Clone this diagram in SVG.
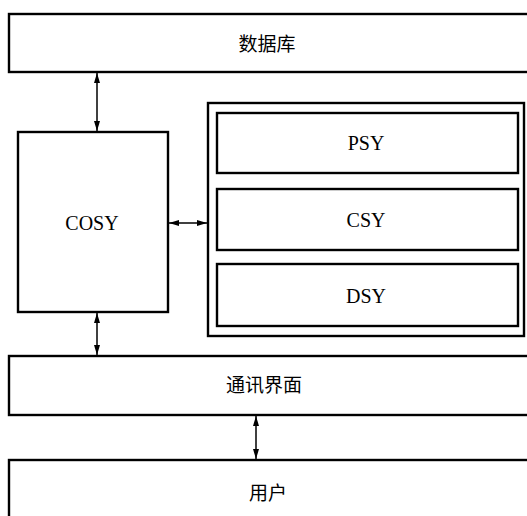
<svg xmlns="http://www.w3.org/2000/svg" width="527" height="516" viewBox="0 0 527 516">
<style>
.box{fill:#fff;stroke:#000;stroke-width:2.4}
.cn{font-family:"Noto Sans CJK SC","Noto Sans",sans-serif;font-size:19px;fill:#000;text-anchor:middle}
.en{font-family:"Liberation Serif",serif;font-size:20px;fill:#000;text-anchor:middle}
.link{stroke:#000;stroke-width:1.5;fill:none;marker-start:url(#ah);marker-end:url(#ah)}
</style>
<defs>
<marker id="ah" viewBox="0 0 10 6" refX="10" refY="3" markerWidth="11" markerHeight="6" markerUnits="userSpaceOnUse" orient="auto-start-reverse">
<path d="M0,0 L10,3 L0,6 Z" fill="#000"/>
</marker>
</defs>
<rect width="527" height="516" fill="#fff"/>
<g id="database"><rect class="box" x="9" y="14" width="530" height="58"/><text class="cn" x="267" y="51">数据库</text></g>
<g id="cosy"><rect class="box" x="18" y="132" width="150" height="180"/><text class="en" x="92" y="230">COSY</text></g>
<g id="subsystems"><rect class="box" x="208" y="103" width="316" height="233"/></g>
<g id="psy"><rect class="box" x="217" y="113" width="301" height="60"/><text class="en" x="366" y="150">PSY</text></g>
<g id="csy"><rect class="box" x="217" y="189" width="301" height="61"/><text class="en" x="366" y="227">CSY</text></g>
<g id="dsy"><rect class="box" x="217" y="264" width="301" height="62"/><text class="en" x="366" y="303">DSY</text></g>
<g id="comm"><rect class="box" x="9" y="356" width="530" height="59"/><text class="cn" x="264" y="392">通讯界面</text></g>
<g id="user"><rect class="box" x="9" y="460" width="530" height="80"/><text class="cn" x="268" y="500">用户</text></g>
<g id="connectors">
<line class="link" x1="97" y1="73" x2="97" y2="131"/>
<line class="link" x1="169" y1="223" x2="207" y2="223"/>
<line class="link" x1="97" y1="313" x2="97" y2="355"/>
<line class="link" x1="256" y1="416" x2="256" y2="459"/>
</g>
</svg>
